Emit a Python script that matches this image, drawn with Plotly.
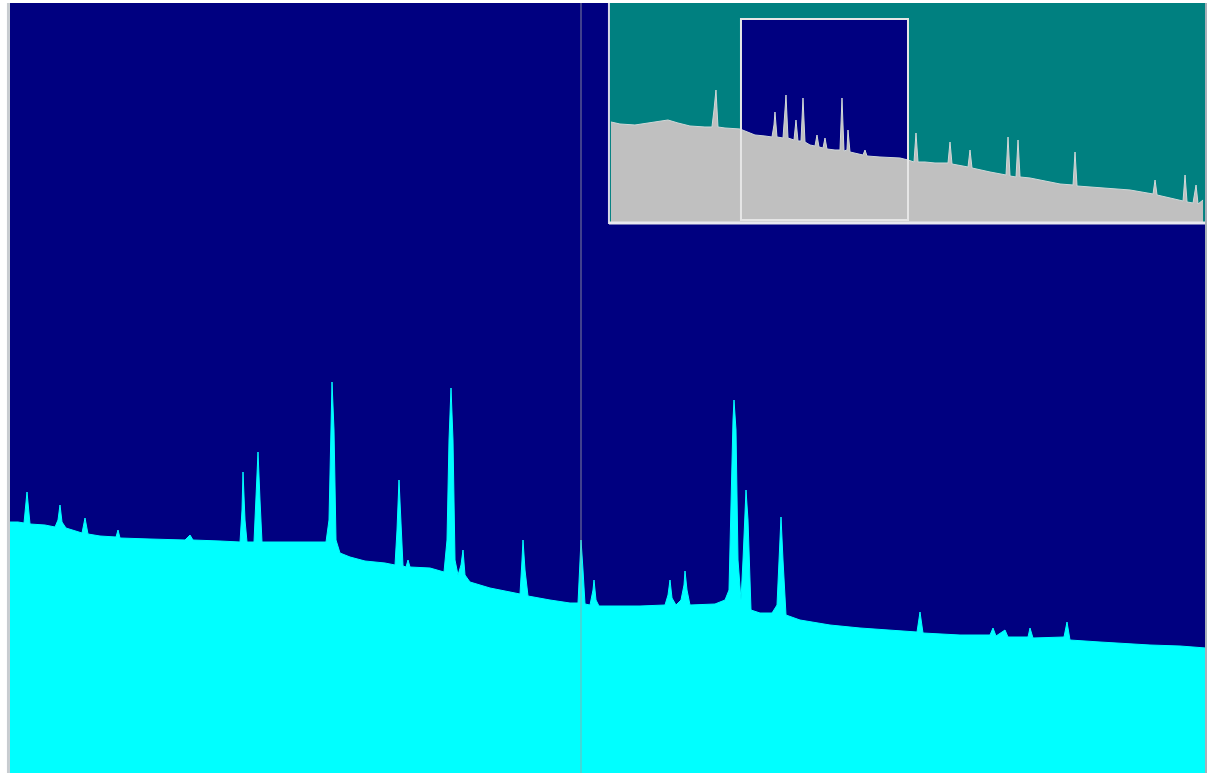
import plotly.graph_objects as go

# ---- Main spectrum (zoomed region): channel, counts ----
main_channel = [10, 18, 24, 27, 30, 45, 55, 58, 60, 62, 66, 75, 82, 85, 88, 100, 116, 118, 120, 150,
                185, 190, 193, 220, 240, 242, 243, 245, 247, 254, 256, 258, 260, 262, 300, 326, 329, 331,
                332, 334, 336, 340, 350, 365, 385, 395, 397, 399, 401, 403, 406, 408, 410, 430, 444, 447,
                449, 451, 453, 455, 458, 461, 463, 465, 470, 490, 515, 520, 522, 523, 525, 528, 550, 570,
                578, 580, 581, 583, 585, 590, 593, 594, 596, 599, 620, 640, 665, 668, 670, 672, 676, 681,
                684, 685, 687, 690, 715, 725, 729, 731, 733, 734, 736, 738, 741, 743, 745, 746, 748, 751,
                760, 772, 777, 779, 781, 783, 786, 800, 830, 860, 900, 917, 920, 923, 960, 990, 993, 996,
                1005, 1008, 1028, 1030, 1033, 1064, 1067, 1070, 1100, 1150, 1180, 1206]
main_pixel_level = [522, 522, 523, 492, 524, 525, 527, 520, 505, 522, 528, 531, 533, 518, 534, 536, 537, 530,
                    538, 539, 540, 535, 540, 541, 542, 510, 472, 520, 542, 542, 500, 452, 500, 542, 542, 542,
                    520, 420, 382, 430, 540, 553, 557, 561, 563, 565, 530, 480, 530, 566, 567, 560, 567, 568,
                    572, 540, 440, 388, 440, 560, 575, 565, 550, 575, 582, 588, 593, 594, 560, 540, 570, 596,
                    600, 603, 603, 560, 540, 570, 604, 605, 590, 580, 600, 606, 606, 606, 605, 595, 580, 598,
                    605, 600, 585, 571, 590, 605, 604, 600, 590, 500, 420, 400, 430, 560, 600, 560, 510, 490,
                    520, 610, 613, 613, 605, 560, 517, 560, 615, 620, 625, 628, 631, 632, 612, 633, 635, 635,
                    628, 636, 630, 637, 637, 628, 638, 637, 622, 640, 642, 645, 646, 648]
main_counts = [773 - v for v in main_pixel_level]

# ---- Overview spectrum (inset): channel, counts ----
over_channel = [611, 620, 635, 650, 660, 668, 678, 690, 705, 712, 714, 716, 718, 725, 740, 745, 755, 765,
                772, 774, 775, 777, 783, 785, 786, 788, 794, 796, 798, 801, 803, 805, 810, 815, 817, 819,
                823, 825, 827, 835, 840, 842, 844, 847, 848, 850, 858, 863, 865, 867, 880, 900, 908, 914,
                916, 918, 925, 935, 948, 950, 952, 965, 968, 970, 972, 990, 1000, 1006, 1008, 1010, 1016,
                1018, 1020, 1030, 1040, 1060, 1073, 1075, 1077, 1100, 1130, 1153, 1155, 1157, 1170, 1183,
                1185, 1187, 1193, 1196, 1198, 1203]
over_pixel_level = [122, 124, 125, 123, 121, 120, 123, 126, 127, 127, 110, 90, 127, 128, 129, 131, 135, 136,
                    137, 125, 112, 137, 138, 110, 95, 138, 140, 120, 141, 141, 98, 142, 145, 146, 135, 147,
                    148, 138, 149, 150, 150, 98, 151, 150, 130, 152, 154, 155, 150, 156, 157, 158, 160, 162,
                    133, 162, 162, 163, 163, 142, 164, 166, 167, 150, 168, 172, 174, 175, 137, 176, 177, 140,
                    177, 178, 180, 184, 185, 152, 186, 188, 190, 194, 180, 195, 198, 201, 175, 202, 203, 185,
                    204, 200]
over_counts = [224 - v for v in over_pixel_level]

# zoom window shown in the overview
zoom_window_channels = [741, 908]
zoom_window_counts = [4, 205]

NAVY = "#000080"
CYAN = "#00ffff"
TEAL = "#008080"
SILVER = "#c0c0c0"

X2_RANGE = [609, 1205]
Y2_RANGE = [0, 221]

fig = go.Figure()
fig.add_trace(go.Scatter(x=main_channel, y=main_counts, mode="lines", fill="tozeroy",
                         line=dict(color=CYAN, width=1), fillcolor=CYAN,
                         hoverinfo="skip", showlegend=False))
fig.add_trace(go.Scatter(x=over_channel, y=over_counts, mode="lines", fill="tozeroy",
                         line=dict(color="#d0d8d8", width=1), fillcolor=SILVER,
                         xaxis="x2", yaxis="y2", hoverinfo="skip", showlegend=False))

ax = dict(visible=False, showgrid=False, zeroline=False, fixedrange=True)
fig.update_layout(
    width=1209, height=773,
    margin=dict(l=10, r=3, t=3, b=0),
    paper_bgcolor="white", plot_bgcolor=NAVY,
    xaxis=dict(range=[10, 1206], domain=[0, 1], **ax),
    yaxis=dict(range=[0, 770], domain=[0, 1], **ax),
    xaxis2=dict(range=X2_RANGE, domain=[0.5008, 0.9992], anchor="y2", **ax),
    yaxis2=dict(range=Y2_RANGE, domain=[0.713, 1.0], anchor="x2", **ax),
    showlegend=False,
    shapes=[
        # inset background
        dict(type="rect", xref="x2", yref="y2", x0=X2_RANGE[0], x1=X2_RANGE[1],
             y0=Y2_RANGE[0], y1=Y2_RANGE[1],
             fillcolor=TEAL, line=dict(width=0), layer="below"),
        # zoom window fill
        dict(type="rect", xref="x2", yref="y2", x0=zoom_window_channels[0], x1=zoom_window_channels[1],
             y0=zoom_window_counts[0], y1=zoom_window_counts[1],
             fillcolor=NAVY, line=dict(width=0), layer="below"),
        # zoom window border
        dict(type="rect", xref="x2", yref="y2", x0=zoom_window_channels[0], x1=zoom_window_channels[1],
             y0=zoom_window_counts[0], y1=zoom_window_counts[1],
             fillcolor="rgba(0,0,0,0)", line=dict(color="#e6e6e6", width=2), layer="above"),
        # inset bevel (left + bottom)
        dict(type="line", xref="x2 domain", yref="y2 domain", x0=0, x1=0, y0=0, y1=1,
             line=dict(color="#d8d8e8", width=2), layer="above"),
        dict(type="line", xref="x2 domain", yref="y2 domain", x0=0, x1=1, y0=0.005, y1=0.005,
             line=dict(color="#e8e8f0", width=3), layer="above"),
        # cursor line
        dict(type="line", xref="x", yref="paper", x0=581, x1=581, y0=0, y1=1,
             line=dict(color="rgba(160,160,160,0.8)", width=1), layer="above"),
        # left frame edge
        dict(type="line", xref="paper", yref="paper", x0=-0.0013, x1=-0.0013, y0=0, y1=1,
             line=dict(color="#c8ccd0", width=3), layer="above"),
        # right frame edge
        dict(type="line", xref="paper", yref="paper", x0=1.0, x1=1.0, y0=0, y1=1,
             line=dict(color="#a8b0b8", width=2), layer="above"),
    ],
)

fig.write_html(
    "out.html",
    config={"displayModeBar": False, "staticPlot": True},
    post_script="document.body.style.margin='0';document.body.style.overflow='hidden';",
)
